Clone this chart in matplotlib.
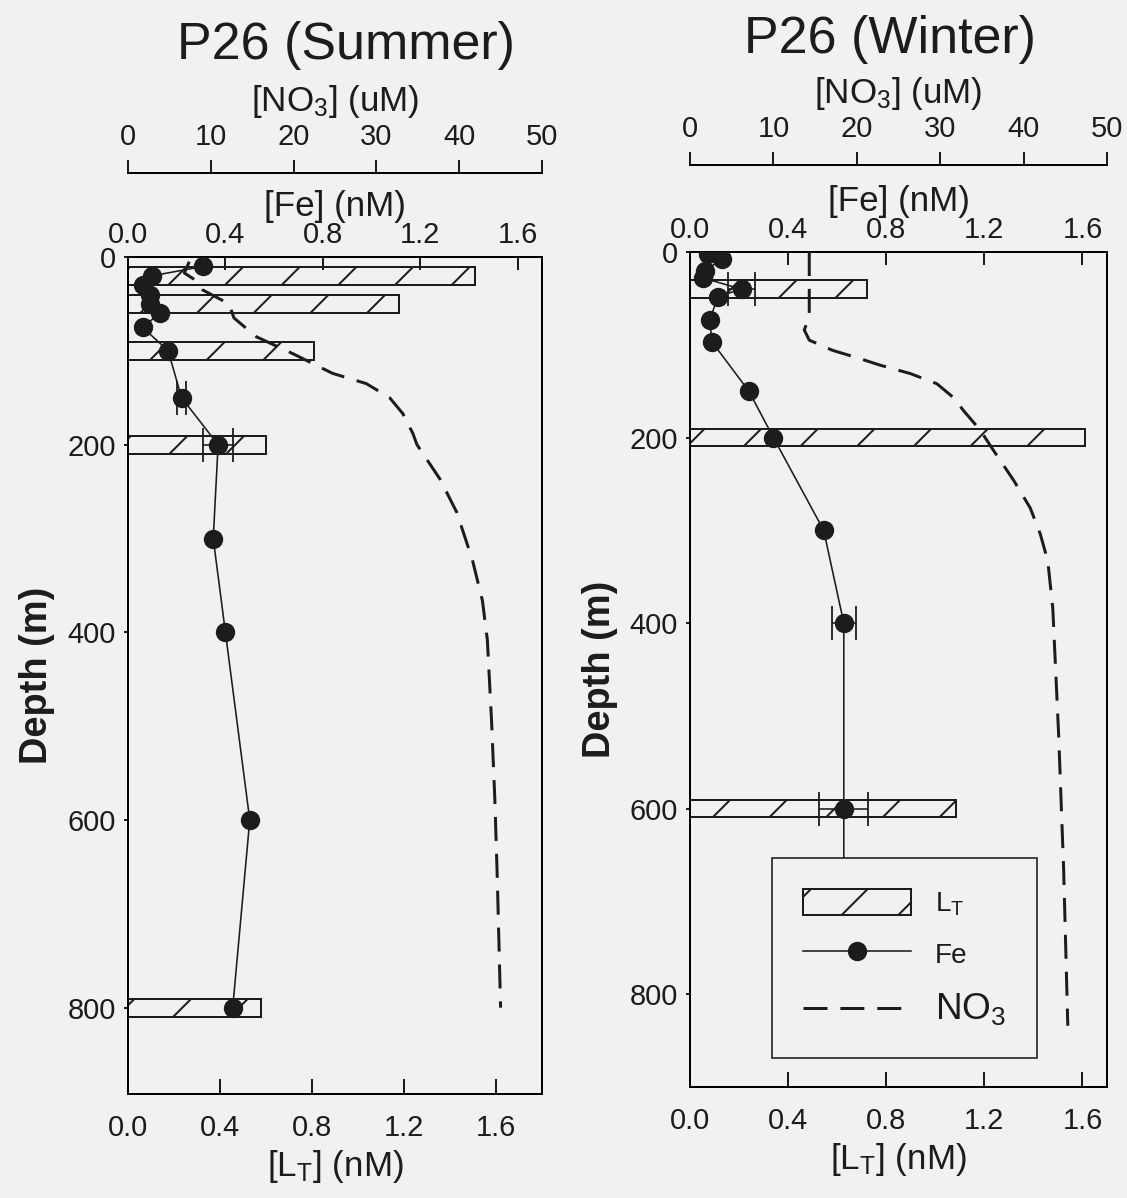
import matplotlib
matplotlib.use("Agg")
import matplotlib.pyplot as plt
import numpy as np
from matplotlib.lines import Line2D
from matplotlib.patches import Patch
from matplotlib.ticker import FormatStrFormatter

DPI = 170
W, H = 1127, 1198


def pt(px):
    """Convert a length in output pixels to points."""
    return px * 72.0 / DPI


INK = "#1c1c1c"
BG = "#f1f1ef"

plt.rcParams.update({
    "font.family": ["Liberation Sans", "DejaVu Sans"],
    "mathtext.fontset": "custom",
    "mathtext.rm": "Liberation Sans",
    "mathtext.it": "Liberation Sans:italic",
    "mathtext.bf": "Liberation Sans:bold",
    "hatch.linewidth": pt(2.0),
    "hatch.color": INK,
    "axes.linewidth": pt(2.0),
    "text.color": INK,
    "axes.labelcolor": INK,
    "xtick.color": INK,
    "ytick.color": INK,
})

# ---- Summer profile (P26) ----
summer_fe_depth = [10, 20, 30, 40, 50, 60, 75, 100, 150, 200, 300, 400, 600, 800]
summer_fe = [0.31, 0.10, 0.06, 0.09, 0.09, 0.13, 0.06, 0.165, 0.22, 0.37, 0.35, 0.40, 0.50, 0.43]
summer_fe_err = [0, 0, 0, 0, 0, 0, 0, 0, 0.02, 0.06, 0, 0, 0, 0]
summer_lt_depth = [20, 50, 100, 200, 800]
summer_lt = [1.51, 1.18, 0.81, 0.60, 0.58]
summer_no3_depth = [5, 17, 25, 35, 50, 65, 85, 103, 124, 135, 150, 167, 188, 200,
                    237, 272, 323, 366, 408, 493, 577, 662, 800]
summer_no3 = [7.4, 6.8, 8.2, 9.0, 12.2, 12.8, 15.5, 19.9, 24.7, 28.8, 31.6, 33.2, 34.4, 34.9,
              37.7, 39.7, 41.6, 42.8, 43.4, 43.9, 44.3, 44.6, 45.0]

# ---- Winter profile (P26) ----
winter_fe_depth = [2, 8, 20, 28, 40, 48, 73, 97, 150, 200, 300, 400, 600, 800]
winter_fe = [0.074, 0.13, 0.06, 0.053, 0.21, 0.115, 0.08, 0.09, 0.24, 0.34, 0.545, 0.627, 0.627, 0.627]
winter_fe_err = [0, 0, 0, 0, 0.055, 0, 0, 0, 0, 0, 0, 0.05, 0.10, 0]
winter_lt_depth = [40, 200, 600]
winter_lt = [0.72, 1.61, 1.085]
winter_no3_depth = [0, 70, 84, 95, 106, 115, 122, 131, 142, 157, 171, 192, 214, 246,
                    276, 304, 333, 384, 520, 665, 834]
winter_no3 = [14.3, 14.3, 13.7, 14.3, 17.1, 20.4, 22.8, 26.4, 29.6, 31.6, 32.8, 34.8, 36.4, 38.8,
              40.8, 42.0, 42.9, 43.5, 44.2, 44.8, 45.3]

nm_ticks = [0.0, 0.4, 0.8, 1.2, 1.6]
no3_ticks = [0, 10, 20, 30, 40, 50]
depth_ticks = [0, 200, 400, 600, 800]

TICK_PX = 29
LABEL_PX = 35

fig = plt.figure(figsize=(W / DPI, H / DPI), dpi=DPI, facecolor=BG)


def panel(box, title, title_xy, lt_max, depth_max, no3_offset,
          fe_depth, fe, fe_err, lt_depth, lt, no3_depth, no3, legend_box=None):
    l, r, t, b = box
    ax = fig.add_axes([l / W, 1 - b / H, (r - l) / W, (b - t) / H])
    ax.set_facecolor("none")

    # total ligand bars on the bottom axis
    ax.barh(lt_depth, lt, height=19, left=0, facecolor="none", edgecolor=INK,
            hatch="/", linewidth=pt(2.0), zorder=1)
    ax.set_xlim(0, lt_max)
    ax.set_ylim(depth_max, 0)
    ax.set_xticks(nm_ticks)
    ax.xaxis.set_major_formatter(FormatStrFormatter("%.1f"))
    ax.set_yticks(depth_ticks)
    ax.tick_params(axis="x", direction="in", length=pt(15), width=pt(2),
                   labelsize=pt(TICK_PX), pad=pt(20))
    ax.tick_params(axis="y", direction="out", length=pt(4), width=pt(2),
                   labelsize=pt(TICK_PX), pad=pt(8))
    ax.set_xlabel(r"[L$_\mathrm{T}$] (nM)", fontsize=pt(LABEL_PX), labelpad=pt(6))
    ax.set_ylabel("Depth (m)", fontsize=pt(38), fontweight="bold", labelpad=pt(12))

    # dissolved iron on the upper axis
    axf = ax.twiny()
    axf.set_xlim(0, 1.7)
    axf.set_xticks(nm_ticks)
    axf.xaxis.set_major_formatter(FormatStrFormatter("%.1f"))
    axf.tick_params(axis="x", direction="in", length=pt(13), width=pt(2),
                    labelsize=pt(TICK_PX), pad=pt(8))
    axf.set_xlabel("[Fe] (nM)", fontsize=pt(LABEL_PX), labelpad=pt(5))
    fe_depth_a = np.asarray(fe_depth, float)
    fe_a = np.asarray(fe, float)
    err_a = np.asarray(fe_err, float)
    m = err_a > 0
    axf.errorbar(fe_a[m], fe_depth_a[m], xerr=err_a[m], fmt="none", ecolor=INK,
                 elinewidth=pt(1.6), capsize=pt(17), capthick=pt(1.8), zorder=2.5)
    axf.plot(fe_a, fe_depth_a, "-", color=INK, lw=pt(1.6), marker="o",
             ms=pt(17), mfc=INK, mec=INK, zorder=3)

    # nitrate on a detached axis above
    axn = ax.twiny()
    axn.set_xlim(0, 50)
    axn.set_xticks(no3_ticks)
    for s in ("bottom", "left", "right"):
        axn.spines[s].set_visible(False)
    axn.spines["top"].set_position(("outward", pt(no3_offset)))
    axn.tick_params(axis="x", direction="out", length=pt(13), width=pt(2),
                    labelsize=pt(TICK_PX), pad=pt(9))
    axn.set_xlabel("[NO$_3$] (uM)", fontsize=pt(LABEL_PX), labelpad=pt(12))
    axn.plot(no3, no3_depth, color=INK, lw=pt(3), dashes=(8, 4.3), zorder=2)

    fig.text(title_xy[0] / W, 1 - title_xy[1] / H, title, ha="center", va="center",
             fontsize=pt(52))

    if legend_box is not None:
        lx, ly = legend_box
        handles = [
            Patch(facecolor="none", edgecolor=INK, hatch="/", linewidth=pt(2)),
            Line2D([], [], color=INK, lw=pt(1.6), marker="o", ms=pt(17), mfc=INK, mec=INK),
            Line2D([], [], color=INK, lw=pt(3), dashes=(8, 4.3)),
        ]
        labels = [r"L$_\mathrm{T}$", "Fe", "NO$_3$"]
        fs = pt(28)
        leg = axn.legend(handles, labels, loc="upper left",
                         bbox_to_anchor=((lx - l) / (r - l), (b - ly) / (b - t)),
                         borderaxespad=0, fontsize=fs, frameon=True, fancybox=False,
                         edgecolor=INK, facecolor=BG, framealpha=1,
                         handlelength=3.86, handleheight=1.04, handletextpad=0.85,
                         labelspacing=0.8, borderpad=1.1)
        leg.get_frame().set_linewidth(pt(1.6))
        leg.get_texts()[2].set_fontsize(pt(37))
        leg.set_zorder(10)
    return ax


panel((128, 542, 257, 1094), "P26 (Summer)", (346, 45), 1.8, 892, 84,
      summer_fe_depth, summer_fe, summer_fe_err, summer_lt_depth, summer_lt,
      summer_no3_depth, summer_no3)
panel((690, 1107, 252, 1087), "P26 (Winter)", (890, 40), 1.7, 900, 87,
      winter_fe_depth, winter_fe, winter_fe_err, winter_lt_depth, winter_lt,
      winter_no3_depth, winter_no3, legend_box=(772, 858))

fig.savefig("out.png", dpi=DPI, facecolor=BG)
